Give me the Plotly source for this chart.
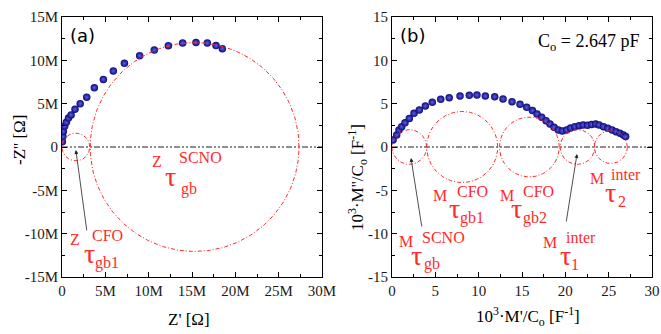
import numpy as np
import plotly.graph_objects as go

W, H = 661, 334

# ---------------- data ----------------
# (a) impedance spectrum, in MOhm
z_re = [0.04, 0.1, 0.15, 0.3, 0.5, 0.75, 1.05, 1.5, 2.1, 2.85, 3.73, 4.77, 5.92,
        7.2, 8.96, 10.65, 12.27, 13.92, 15.46, 16.77, 17.77, 18.5]
z_im = [0.6, 1.2, 1.8, 2.4, 2.85, 3.35, 3.7, 4.35, 5.0, 5.75, 6.84, 7.8, 8.77,
        9.65, 10.54, 11.19, 11.69, 12.0, 12.05, 12.0, 11.7, 11.35]

# (b) modulus spectrum, 10^3 M/Co
m_re = [0.12, 0.54, 0.81, 1.12, 1.5, 2.0, 2.54, 3.15, 3.85, 4.65, 5.62, 6.6, 7.85,
        8.92, 9.8, 10.77, 11.85, 12.81, 13.85, 14.77, 15.54, 16.2, 16.73, 17.27,
        17.77, 18.23, 18.7, 19.2, 19.65, 20.15, 20.6, 21.1, 21.6, 22.06, 22.56,
        23.03, 23.5, 23.9, 24.4, 24.9, 25.4, 25.85, 26.3, 26.7, 26.96]
m_im = [0.81, 1.38, 1.96, 2.35, 2.8, 3.3, 3.88, 4.27, 4.73, 5.15, 5.5, 5.69, 5.88,
        5.96, 6.0, 5.88, 5.8, 5.54, 5.23, 4.92, 4.58, 4.2, 3.8, 3.42, 3.04, 2.65,
        2.27, 1.96, 1.85, 1.96, 2.2, 2.35, 2.46, 2.54, 2.5, 2.6, 2.65, 2.54, 2.35,
        2.15, 1.96, 1.77, 1.58, 1.38, 1.2]

# fitted semicircle components (centre on real axis, radius)
z_circle_cx = [1.6, 15.3]
z_circle_r = [1.6, 12.05]
m_circle_cx = [2.0, 8.1, 15.85, 21.4, 25.25]
m_circle_r = [2.0, 4.1, 3.45, 2.0, 1.9]

tick_vals = [-15, -10, -5, 0, 5, 10, 15]
tick_text_a_y = ["-15M", "-10M", "-5M", "0", "5M", "10M", "15M"]
tick_vals_x = [0, 5, 10, 15, 20, 25, 30]
tick_text_a_x = ["0", "5M", "10M", "15M", "20M", "25M", "30M"]
tick_text_b_x = ["0", "5", "10", "15", "20", "25", "30"]
tick_text_b_y = ["-15", "-10", "-5", "0", "5", "10", "15"]

# ---------------- figure ----------------
SERIF = "Liberation Serif"
RED = "#ff2a2a"

fig = go.Figure()

marker = dict(size=7.5, color="#0c0c74",
              gradient=dict(type="radial", color="#5c5cf0"),
              line=dict(width=0))

fig.add_trace(go.Scatter(x=z_re, y=z_im, mode="markers", marker=marker,
                         xaxis="x", yaxis="y", showlegend=False))
fig.add_trace(go.Scatter(x=m_re, y=m_im, mode="markers", marker=marker,
                         xaxis="x2", yaxis="y2", showlegend=False))

theta = np.linspace(0, 2 * np.pi, 300)
for cx, r in zip(z_circle_cx, z_circle_r):
    fig.add_trace(go.Scatter(x=cx + r * np.cos(theta), y=r * np.sin(theta),
                             mode="lines", line=dict(color=RED, width=1, dash="4px,2px,1px,2px"),
                             xaxis="x", yaxis="y", showlegend=False, hoverinfo="skip"))
for cx, r in zip(m_circle_cx, m_circle_r):
    fig.add_trace(go.Scatter(x=cx + r * np.cos(theta), y=r * np.sin(theta),
                             mode="lines", line=dict(color=RED, width=1, dash="4px,2px,1px,2px"),
                             xaxis="x2", yaxis="y2", showlegend=False, hoverinfo="skip"))

# zero reference lines
for xr, yr in (("x domain", "y"), ("x2 domain", "y2")):
    fig.add_shape(type="line", xref=xr, yref=yr, x0=0, x1=1, y0=0, y1=0,
                  line=dict(color="#222", width=1, dash="6px,2px,2px,2px,2px,2px"),
                  layer="below")

ydom = [1 - 277 / H, 1 - 17 / H]

axis_common = dict(showline=True, linecolor="black", linewidth=1, mirror="allticks",
                   ticks="inside", ticklen=5, tickcolor="black", showgrid=False,
                   zeroline=False, range=[-15, 15], automargin=False,
                   tickfont=dict(family=SERIF, size=15, color="#1a1a1a"),
                   minor=dict(ticks="inside", ticklen=3, tickcolor="black",
                              tickmode="linear", tick0=0, dtick=2.5))

fig.update_layout(
    width=W, height=H, margin=dict(l=0, r=0, t=0, b=0),
    paper_bgcolor="white", plot_bgcolor="white",
    xaxis=dict(axis_common, domain=[62 / W, 322 / W], range=[0, 30], anchor="y",
               tickmode="array", tickvals=tick_vals_x, ticktext=tick_text_a_x),
    yaxis=dict(axis_common, domain=ydom, anchor="x",
               tickmode="array", tickvals=tick_vals, ticktext=tick_text_a_y),
    xaxis2=dict(axis_common, domain=[392 / W, 652 / W], range=[0, 30], anchor="y2",
                tickmode="array", tickvals=tick_vals_x, ticktext=tick_text_b_x),
    yaxis2=dict(axis_common, domain=ydom, anchor="x2",
                tickmode="array", tickvals=tick_vals, ticktext=tick_text_b_y),
)


def px(x, y):
    return x / W, 1 - y / H


def label(x, y, text, size, color="black", family=SERIF, angle=0):
    xp, yp = px(x, y)
    fig.add_annotation(x=xp, y=yp, xref="paper", yref="paper", text=text,
                       showarrow=False, xanchor="center", yanchor="middle",
                       textangle=angle, borderpad=0,
                       font=dict(family=family, size=size, color=color))


# axis titles
label(189, 319, "Z' [Ω]", 17)
label(19, 140, "-Z'' [Ω]", 17, angle=-90)
label(528, 316, "10<sup>3</sup>·M'/C<sub>o</sub> [F<sup>-1</sup>]", 17)
label(357, 177, "10<sup>3</sup>·M''/C<sub>o</sub> [F<sup>-1</sup>]", 17, angle=-90)

# panel labels
label(82, 36, "(a)", 18, family="DejaVu Sans")
label(412, 36, "(b)", 18, family="DejaVu Sans")
label(588, 42, "C<sub>o</sub> = 2.647 pF", 18)


def tau_label(x_letter, y_letter, letter, sup, sub, x_tau, y_tau, x_sup, y_sup, x_sub, y_sub):
    label(x_letter, y_letter, letter, 16, RED)
    label(x_tau, y_tau, "τ", 28, RED)
    label(x_sup, y_sup, sup, 16, RED)
    label(x_sub, y_sub, sub, 16, RED)


tau_label(157, 161, "Z", "SCNO", "gb", 170, 176, 200, 157, 189, 189)
tau_label(75, 239, "Z", "CFO", "gb1", 89, 253, 107, 235, 107, 263)
tau_label(406, 241, "M", "SCNO", "gb", 417, 255, 443, 238, 432, 264)
tau_label(440, 195, "M", "CFO", "gb1", 454, 208, 472, 191, 472, 218)
tau_label(507, 195, "M", "CFO", "gb2", 516, 208, 538, 191, 535, 218)
tau_label(550, 242, "M", "inter", "1", 565, 255, 581, 238, 575, 264)
tau_label(597, 178, "M", "inter", "2", 610, 192, 626, 174, 622, 201)

# arrows pointing at the small semicircles
arrows = [
    ("x", "y", 1.6, -0.35, 2.88, -9.8),
    ("x2", "y2", 2.19, -1.27, 3.46, -9.35),
    ("x2", "y2", 21.35, -0.8, 20.08, -8.77),
]
for xr, yr, hx, hy, tx, ty in arrows:
    fig.add_annotation(x=hx, y=hy, ax=tx, ay=ty, xref=xr, yref=yr, axref=xr, ayref=yr,
                       text="", showarrow=True, arrowhead=2, arrowsize=1,
                       arrowwidth=0.8, arrowcolor="#222")

fig.write_html("out.html", config={"displayModeBar": False},
               post_script="document.body.style.margin='0';document.body.style.overflow='hidden';")
